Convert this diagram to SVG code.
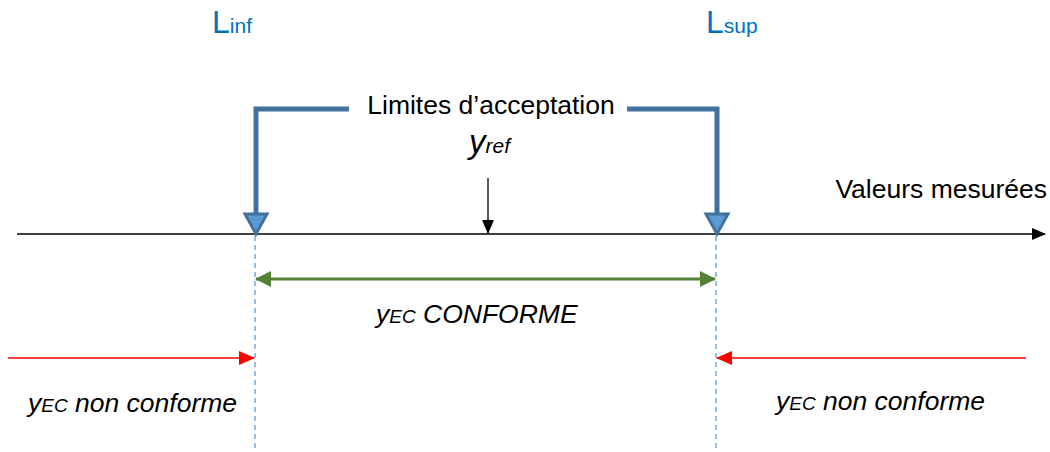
<svg xmlns="http://www.w3.org/2000/svg" width="1050" height="452" viewBox="0 0 1050 452">
<style>
text{font-family:"Liberation Sans",Arial,sans-serif;fill:#000}
.it{font-style:italic}
.blue{fill:#0070C0}
.dash{stroke:#5B9BD5;stroke-width:1.3;stroke-dasharray:5,4;fill:none}
.br{stroke:#41719C;stroke-width:5;fill:none}
.brh{fill:#5B9BD5;stroke:#41719C;stroke-width:3;stroke-linejoin:miter}
</style>
<defs>
<marker id="ab" markerWidth="14" markerHeight="12" refX="13" refY="6" orient="auto" markerUnits="userSpaceOnUse"><path d="M0,0 L14,6 L0,12 Z" fill="#000"/></marker>
<marker id="ag" markerWidth="16" markerHeight="16" refX="15" refY="8" orient="auto-start-reverse" markerUnits="userSpaceOnUse"><path d="M0,0 L16,8 L0,16 Z" fill="#548235"/></marker>
<marker id="ar" markerWidth="16" markerHeight="14" refX="15" refY="7" orient="auto" markerUnits="userSpaceOnUse"><path d="M0,0 L16,7 L0,14 Z" fill="#FF0000"/></marker>
</defs>
<g id="labels-limits">
<text x="212" y="33" class="blue" font-size="32">L<tspan font-size="21">inf</tspan></text>
<text x="706" y="33" class="blue" font-size="32">L<tspan font-size="21">sup</tspan></text>
</g>
<g id="connectors">
<line x1="17" y1="234" x2="1045" y2="234" stroke="#000" stroke-width="1.3" marker-end="url(#ab)"/>
<line class="dash" x1="255" y1="236" x2="255" y2="452"/>
<line class="dash" x1="716" y1="236" x2="716" y2="452"/>
<polyline class="br" points="349,109 256,109 256,214"/>
<polygon class="brh" points="245,214 267,214 256,234"/>
<polyline class="br" points="627,109 717,109 717,214"/>
<polygon class="brh" points="706,214 728,214 717,234"/>
<line x1="488" y1="178" x2="488" y2="233" stroke="#000" stroke-width="1.3" marker-end="url(#ab)"/>
<line x1="256" y1="279" x2="715" y2="279" stroke="#548235" stroke-width="3" marker-start="url(#ag)" marker-end="url(#ag)"/>
<line x1="8" y1="358" x2="254" y2="358" stroke="#FF0000" stroke-width="1.5" marker-end="url(#ar)"/>
<line x1="1026" y1="358" x2="717" y2="358" stroke="#FF0000" stroke-width="1.5" marker-end="url(#ar)"/>
</g>
<g id="label-acceptation">
<text x="491" y="114" font-size="26.5" text-anchor="middle">Limites d’acceptation</text>
<text x="469" y="153" class="it" font-size="33">y<tspan font-size="21">ref</tspan></text>
</g>
<g id="label-axis">
<text x="1047" y="198" font-size="26.5" text-anchor="end">Valeurs mesurées</text>
</g>
<g id="label-conforme">
<text x="376" y="323" class="it" font-size="26.5">y<tspan font-size="19">EC</tspan> CONFORME</text>
</g>
<g id="label-nc-left">
<text x="28" y="412" class="it" font-size="26.5">y<tspan font-size="19">EC</tspan> non conforme</text>
</g>
<g id="label-nc-right">
<text x="776" y="410" class="it" font-size="26.5">y<tspan font-size="19">EC</tspan> non conforme</text>
</g>
</svg>
